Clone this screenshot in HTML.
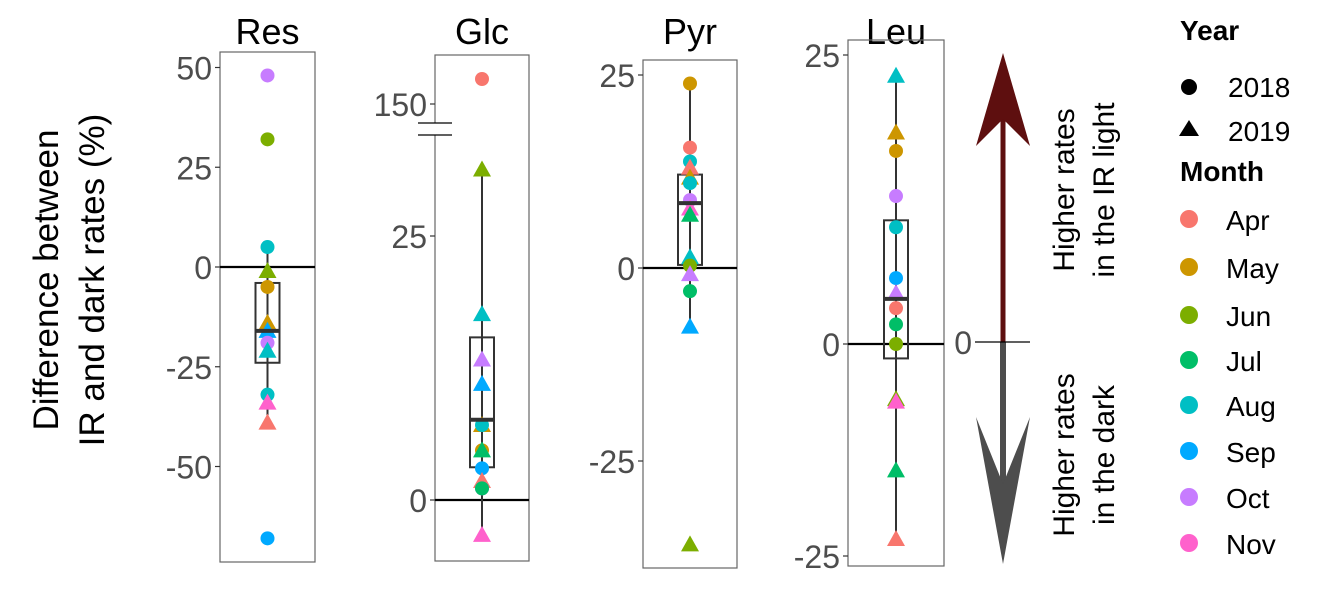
<!DOCTYPE html>
<html><head><meta charset="utf-8"><style>
body{margin:0;background:#fff;}
svg{display:block;font-family:"Liberation Sans",sans-serif;}
</style></head><body>
<svg id="chart" width="1323" height="602" viewBox="0 0 1323 602"></svg>
<script>
const months=["Apr","May","Jun","Jul","Aug","Sep","Oct","Nov"];
const colors=["#F8766D","#CD9600","#7CAE00","#00BE67","#00BFC4","#00A9FF","#C77CFF","#FF61CC"];
const panelNames=["Res","Glc","Pyr","Leu"];
// points: [month index, year(0=2018 circle,1=2019 triangle), value]
const resPoints=[[6,0,48],[2,0,32],[4,0,5],[2,1,-1],[1,0,-5],[1,1,-14],[5,1,-16],[6,0,-19],[4,1,-21],[4,0,-32],[7,1,-34],[0,1,-39],[5,0,-68]];
const glcPoints=[[0,0,155],[2,1,31.3],[4,1,17.6],[6,1,13.3],[5,1,11],[1,1,7.1],[4,0,7.1],[1,0,4.7],[3,1,4.7],[5,0,3],[0,1,1.8],[6,0,1.1],[3,0,1.1],[7,1,-3.3]];
const pyrPoints=[[1,0,23.9],[0,0,15.6],[4,0,13.8],[0,1,13],[1,1,11.7],[4,0,11],[6,0,8.8],[7,1,7.7],[3,1,6.9],[4,1,1.4],[2,0,0.3],[6,1,-0.8],[3,0,-3],[5,1,-7.6],[2,1,-35.8]];
const leuPoints=[[4,1,23.2],[1,1,18.3],[1,0,16.7],[6,0,12.8],[4,0,10.1],[5,0,5.7],[6,1,4.4],[0,0,3.1],[3,0,1.7],[2,0,0],[2,1,-6.5],[7,1,-6.8],[3,1,-14.9],[0,1,-23]];
// box stats: [whiskerLow, q1, median, q3, whiskerHigh]
const resBox=[-39,-24,-16,-4,5];
const glcBox=[-3.3,3.1,7.6,15.4,31.3];
const pyrBox=[-7.6,0.4,8.4,12.1,23.9];
const leuBox=[-23,-1.7,3.9,10.7,23.2];
const resTicks=[50,25,0,-25,-50];
const glcTicks=[150,25,0];
const pyrTicks=[25,0,-25];
const leuTicks=[25,0,-25];

const svg=document.getElementById('chart');
const NS="http://www.w3.org/2000/svg";
function mk(tag,attrs,parent){const e=document.createElementNS(NS,tag);for(const k in attrs)e.setAttribute(k,attrs[k]);(parent||svg).appendChild(e);return e;}

const yRes=v=>267-v*3.99;
const yGlc=v=>v>100?104-(v-150)*5:500-v*10.56;
const yPyr=v=>268-v*7.72;
const yLeu=v=>v>=0?344-v*11.56:344-v*8.48;

const panels=[
 {name:"Res",x0:220,x1:315,y0:52,y1:562,sc:yRes,pts:resPoints,box:resBox,ticks:resTicks},
 {name:"Glc",x0:435,x1:529,y0:55,y1:561,sc:yGlc,pts:glcPoints,box:glcBox,ticks:glcTicks},
 {name:"Pyr",x0:643,x1:737,y0:60,y1:568,sc:yPyr,pts:pyrPoints,box:pyrBox,ticks:pyrTicks},
 {name:"Leu",x0:848,x1:944,y0:40,y1:566,sc:yLeu,pts:leuPoints,box:leuBox,ticks:leuTicks}
];

panels.forEach(p=>{
 const g=mk('g',{});
 
 
 const cx=(p.x0+p.x1)/2;
 const t=mk('text',{x:cx,y:44,'text-anchor':'middle','font-size':36,fill:'#000'},g);
 t.textContent=p.name;
 
 
 const fr=mk('rect',{x:p.x0,y:p.y0,width:p.x1-p.x0,height:p.y1-p.y0,fill:'none',stroke:'#666','stroke-width':1.2},g);
 
 
 p.ticks.forEach(v=>{
  const y=p.sc(v);
  mk('line',{x1:p.x0-5,x2:p.x0,y1:y,y2:y,stroke:'#333','stroke-width':1.2},g);
  const tl=mk('text',{x:p.x0-8,y:y+12,'text-anchor':'end','font-size':32,fill:'#4d4d4d'},g);
  tl.textContent=v;
  
  
 });
 const z=p.sc(0);
 const zl=mk('line',{x1:p.x0,x2:p.x1,y1:z,y2:z,stroke:'#000','stroke-width':2.2},g);
 
 
 const b=p.box;
 mk('line',{x1:cx,x2:cx,y1:p.sc(b[4]),y2:p.sc(b[0]),stroke:'#333','stroke-width':2},g);
 const bx=mk('rect',{x:cx-12,y:p.sc(b[3]),width:24,height:p.sc(b[1])-p.sc(b[3]),fill:'none',stroke:'#333','stroke-width':2},g);
 
 
 p.pts.forEach(d=>{
  const y=p.sc(d[2]);const c=colors[d[0]];
  let e;
  if(d[1]===0){e=mk('circle',{cx:cx,cy:y,r:7,fill:c},g);}
  else{e=mk('polygon',{points:`${cx},${y-9} ${cx-9},${y+7} ${cx+9},${y+7}`,fill:c},g);}
  
  
 });
 mk('line',{x1:cx-12,x2:cx+12,y1:p.sc(b[2]),y2:p.sc(b[2]),stroke:'#333','stroke-width':4},g);
});
mk('rect',{x:418,y:123,width:34,height:12,fill:'#fff'});
mk('line',{x1:418,x2:452,y1:123,y2:123,stroke:'#000','stroke-width':1.3});
mk('line',{x1:418,x2:452,y1:135,y2:135,stroke:'#000','stroke-width':1.3});

const yt=mk('text',{transform:'translate(72,280) rotate(-90)','text-anchor':'middle','font-size':35,fill:'#000'});


mk('tspan',{x:0,dy:-14},yt).textContent='Difference between';
mk('tspan',{x:0,dy:46},yt).textContent='IR and dark rates (%)';

const ar=mk('g',{});


mk('line',{x1:1003,x2:1003,y1:342,y2:110,stroke:'#5e0f0f','stroke-width':5},ar);
mk('polygon',{points:'1003,53 1030,146 1003,119 976,146',fill:'#5e0f0f'},ar);
mk('line',{x1:1003,x2:1003,y1:342,y2:490,stroke:'#4d4d4d','stroke-width':6},ar);
mk('polygon',{points:'1003,564 1030,417 1003,484 976,417',fill:'#4d4d4d'},ar);
mk('line',{x1:975,x2:1030,y1:342,y2:342,stroke:'#000','stroke-width':1.3},ar);
const z0=mk('text',{x:972,y:354,'text-anchor':'end','font-size':32,fill:'#4d4d4d'},ar);z0.textContent='0';
const t1=mk('text',{transform:'translate(1082,190) rotate(-90)','text-anchor':'middle','font-size':30,fill:'#000'},ar);
mk('tspan',{x:0,dy:-8},t1).textContent='Higher rates';
mk('tspan',{x:0,dy:40},t1).textContent='in the IR light';
const t2=mk('text',{transform:'translate(1082,455) rotate(-90)','text-anchor':'middle','font-size':30,fill:'#000'},ar);
mk('tspan',{x:0,dy:-8},t2).textContent='Higher rates';
mk('tspan',{x:0,dy:40},t2).textContent='in the dark';

const lg=mk('g',{});


const yh=mk('text',{x:1180,y:40,'font-size':28,'font-weight':'bold',fill:'#000'},lg);yh.textContent='Year';
mk('circle',{cx:1189,cy:87,r:8,fill:'#000'},lg);
const l18=mk('text',{x:1228,y:97,'font-size':28,fill:'#000'},lg);l18.textContent='2018';
mk('polygon',{points:'1189,120 1179,136 1199,136',fill:'#000'},lg);
const l19=mk('text',{x:1228,y:141,'font-size':28,fill:'#000'},lg);l19.textContent='2019';
const mh=mk('text',{x:1180,y:181,'font-size':28,'font-weight':'bold',fill:'#000'},lg);mh.textContent='Month';
const legY=[220,268,316,361,406,452,498,544];
months.forEach((m,i)=>{
 const e=mk('g',{},lg);
 
 
 mk('circle',{cx:1189,cy:legY[i]-1,r:9,fill:colors[i]},e);
 const tx=mk('text',{x:1226,y:legY[i]+10,'font-size':28,fill:'#000'},e);tx.textContent=m;
});
</script>
</body></html>
